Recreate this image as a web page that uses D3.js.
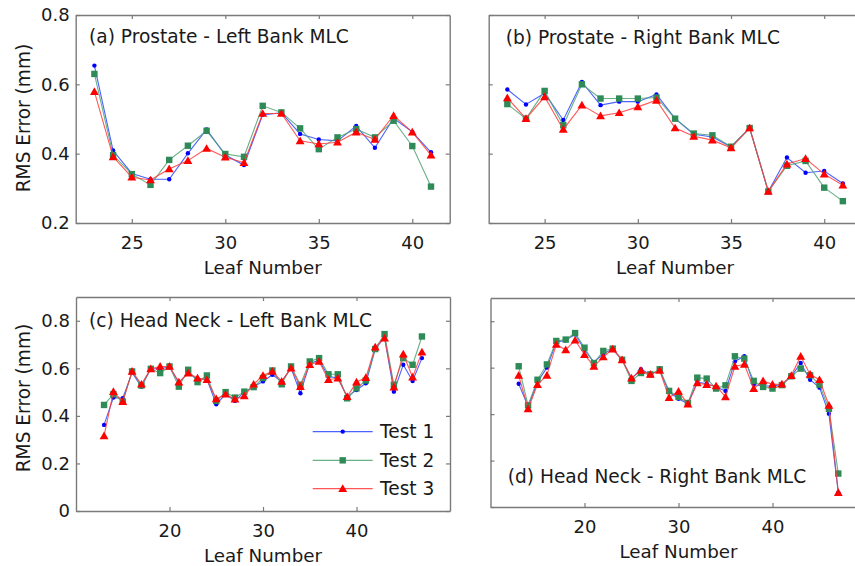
<!DOCTYPE html>
<html>
<head>
<meta charset="utf-8">
<script src="https://cdn.jsdelivr.net/npm/d3@7"></script>
<style>
  html, body { margin: 0; padding: 0; background: #fff; }
  svg { display: block; }
  text { font-family: "DejaVu Sans", sans-serif; fill: #1a1a1a; }
</style>
</head>
<body>
<svg id="chart" width="855" height="566"></svg>
<script>
// leaf numbers
const prostateLeaves = [23, 24, 25, 26, 27, 28, 29, 30, 31, 32, 33, 34, 35, 36, 37, 38, 39, 40, 41];
const headNeckLeaves = [13, 14, 15, 16, 17, 18, 19, 20, 21, 22, 23, 24, 25, 26, 27, 28, 29, 30,
  31, 32, 33, 34, 35, 36, 37, 38, 39, 40, 41, 42, 43, 44, 45, 46, 47];

// (a) Prostate - Left Bank
const aTest1 = [0.654, 0.409, 0.343, 0.326, 0.326, 0.401, 0.470, 0.396, 0.367, 0.512,
  0.518, 0.457, 0.441, 0.437, 0.480, 0.417, 0.502, 0.463, 0.404];
const aTest2 = [0.630, 0.396, 0.341, 0.310, 0.382, 0.423, 0.466, 0.399, 0.391, 0.538,
  0.519, 0.473, 0.413, 0.447, 0.471, 0.447, 0.495, 0.422, 0.305];
const aTest3 = [0.579, 0.391, 0.332, 0.324, 0.356, 0.380, 0.415, 0.390, 0.374, 0.516,
  0.516, 0.437, 0.428, 0.433, 0.462, 0.441, 0.510, 0.462, 0.396];

// (b) Prostate - Right Bank
const bTest1 = [0.585, 0.542, 0.574, 0.497, 0.607, 0.540, 0.550, 0.550, 0.571, 0.501,
  0.456, 0.448, 0.420, 0.474, 0.291, 0.389, 0.345, 0.350, 0.314];
const bTest2 = [0.543, 0.501, 0.581, 0.482, 0.600, 0.559, 0.559, 0.559, 0.562, 0.501,
  0.458, 0.453, 0.420, 0.474, 0.291, 0.365, 0.379, 0.302, 0.263];
const bTest3 = [0.561, 0.501, 0.564, 0.470, 0.540, 0.509, 0.518, 0.535, 0.554, 0.474,
  0.450, 0.439, 0.417, 0.474, 0.291, 0.370, 0.386, 0.341, 0.309];

// (c) Head Neck - Left Bank
const cTest1 = [0.362, 0.477, 0.474, 0.582, 0.523, 0.598, 0.598, 0.606, 0.540, 0.580,
  0.554, 0.554, 0.449, 0.491, 0.463, 0.500, 0.523, 0.545, 0.573, 0.545,
  0.601, 0.495, 0.622, 0.633, 0.566, 0.559, 0.481, 0.509, 0.537, 0.681,
  0.730, 0.502, 0.615, 0.547, 0.643];
const cTest2 = [0.446, 0.491, 0.460, 0.587, 0.528, 0.598, 0.580, 0.608, 0.523, 0.594,
  0.542, 0.570, 0.463, 0.500, 0.477, 0.502, 0.521, 0.559, 0.591, 0.533,
  0.608, 0.531, 0.629, 0.643, 0.575, 0.575, 0.474, 0.516, 0.549, 0.681,
  0.744, 0.531, 0.643, 0.615, 0.734];
const cTest3 = [0.316, 0.502, 0.460, 0.587, 0.533, 0.598, 0.608, 0.608, 0.542, 0.580,
  0.559, 0.552, 0.472, 0.491, 0.470, 0.484, 0.533, 0.570, 0.587, 0.545,
  0.601, 0.523, 0.615, 0.629, 0.552, 0.559, 0.481, 0.542, 0.561, 0.689,
  0.727, 0.521, 0.660, 0.563, 0.668];

// (d) Head Neck - Right Bank
const dTest1 = [0.531, 0.433, 0.538, 0.600, 0.710, 0.718, 0.744, 0.677, 0.624, 0.660,
  0.680, 0.634, 0.553, 0.593, 0.571, 0.588, 0.495, 0.466, 0.445, 0.538,
  0.531, 0.517, 0.500, 0.627, 0.649, 0.527, 0.521, 0.521, 0.527, 0.563,
  0.620, 0.548, 0.514, 0.402, 0.062];
const dTest2 = [0.606, 0.438, 0.548, 0.614, 0.715, 0.721, 0.749, 0.686, 0.620, 0.672,
  0.682, 0.634, 0.543, 0.577, 0.571, 0.593, 0.500, 0.474, 0.448, 0.557,
  0.553, 0.510, 0.524, 0.649, 0.639, 0.543, 0.517, 0.510, 0.525, 0.563,
  0.596, 0.567, 0.527, 0.423, 0.144];
const dTest3 = [0.567, 0.423, 0.527, 0.567, 0.700, 0.677, 0.718, 0.656, 0.606, 0.646,
  0.680, 0.634, 0.555, 0.588, 0.571, 0.588, 0.471, 0.498, 0.443, 0.534,
  0.527, 0.521, 0.474, 0.606, 0.614, 0.510, 0.543, 0.528, 0.529, 0.566,
  0.649, 0.571, 0.548, 0.438, 0.062];

const seriesNames = ["Test 1", "Test 2", "Test 3"];
const panelTitles = [
  "(a) Prostate - Left Bank MLC",
  "(b) Prostate - Right Bank MLC",
  "(c) Head Neck - Left Bank MLC",
  "(d) Head Neck - Right Bank MLC"
];
const xTicksProstate = [25, 30, 35, 40];
const xTicksHeadNeck = [20, 30, 40];
const yTicksProstate = [0.2, 0.4, 0.6, 0.8];
const yTicksHeadNeck = [0, 0.2, 0.4, 0.6, 0.8];

const colors = ["#0000ff", "#2e8b57", "#ff0000"];
const lineColors = ["#2a48ff", "#4fa273", "#ff3a3a"];
const fontSize = 18.6;

const svg = d3.select("#chart");
svg.append("rect").attr("width", 855).attr("height", 566).attr("fill", "#fff");

const panels = [
  { box: [75.7, 449.7, 15, 223], xDom: [22, 42], yDom: [0.2, 0.8], leaves: prostateLeaves,
    series: [aTest1, aTest2, aTest3], xTicks: xTicksProstate, yTicks: yTicksProstate,
    yLabels: true, title: panelTitles[0], titlePos: [89, 43], yLabelY: 118, legend: false },
  { box: [488.7, 861.5, 15, 223], xDom: [22, 42], yDom: [0.2, 0.8], leaves: prostateLeaves,
    series: [bTest1, bTest2, bTest3], xTicks: xTicksProstate, yTicks: yTicksProstate,
    yLabels: false, title: panelTitles[1], titlePos: [505.7, 44], legend: false },
  { box: [76, 450, 297, 511], xDom: [10, 50], yDom: [0, 0.9], leaves: headNeckLeaves,
    series: [cTest1, cTest2, cTest3], xTicks: xTicksHeadNeck, yTicks: yTicksHeadNeck,
    yLabels: true, title: panelTitles[2], titlePos: [89, 327], yLabelY: 398, legend: true },
  { box: [490.5, 866.5, 298, 507], xDom: [10, 50], yDom: [0, 0.9], leaves: headNeckLeaves,
    series: [dTest1, dTest2, dTest3], xTicks: xTicksHeadNeck, yTicks: yTicksHeadNeck,
    yLabels: false, title: panelTitles[3], titlePos: [507.7, 483], legend: false }
];

// legend rows sit at these RMS values inside panel (c)
const legendRows = [0.334, 0.213, 0.094];

function drawMarker(g, i, cx, cy) {
  if (i === 0) {
    g.append("circle").attr("cx", cx).attr("cy", cy).attr("r", 2.2).attr("fill", colors[0]);
  } else if (i === 1) {
    g.append("rect").attr("x", cx - 3.2).attr("y", cy - 3.2)
      .attr("width", 6.4).attr("height", 6.4).attr("fill", colors[1]);
  } else {
    g.append("path").attr("d", d3.symbol(d3.symbolTriangle, 34)())
      .attr("transform", `translate(${cx},${cy + 0.8})`).attr("fill", colors[2]);
  }
}

function styleAxis(g) {
  g.select(".domain").attr("stroke", "#7a7a7a").attr("stroke-width", 1.4);
  g.selectAll(".tick line").attr("stroke", "#7a7a7a").attr("stroke-width", 1.2);
  g.selectAll("text").style("font-size", "18px").attr("fill", "#1a1a1a")
    .style("font-family", "DejaVu Sans, sans-serif");
}

panels.forEach((p) => {
  const [left, right, top, bottom] = p.box;
  const x = d3.scaleLinear().domain(p.xDom).range([left, right]);
  const y = d3.scaleLinear().domain(p.yDom).range([bottom, top]);
  const g = svg.append("g");

  // axes, ticks pointing inward on all four sides
  g.append("g").attr("transform", `translate(0,${bottom})`)
    .call(d3.axisBottom(x).tickValues(p.xTicks).tickSizeInner(-4).tickSizeOuter(0).tickPadding(13))
    .call(styleAxis);
  g.append("g").attr("transform", `translate(0,${top})`)
    .call(d3.axisTop(x).tickValues(p.xTicks).tickSizeInner(-4).tickSizeOuter(0).tickFormat(""))
    .call(styleAxis);
  g.append("g").attr("transform", `translate(${left},0)`)
    .call(d3.axisLeft(y).tickValues(p.yTicks).tickSizeInner(-4).tickSizeOuter(0).tickPadding(6)
      .tickFormat(p.yLabels ? d3.format("") : ""))
    .call(styleAxis);
  g.append("g").attr("transform", `translate(${right},0)`)
    .call(d3.axisRight(y).tickValues(p.yTicks).tickSizeInner(-4).tickSizeOuter(0).tickFormat(""))
    .call(styleAxis);

  // series
  p.series.forEach((vals, i) => {
    const pts = p.leaves.map((leaf, j) => ({ leaf, v: vals[j] }));
    const line = d3.line().x((d) => x(d.leaf)).y((d) => y(d.v));
    g.append("path").datum(pts).attr("d", line).attr("fill", "none")
      .attr("stroke", lineColors[i]).attr("stroke-width", 1.1).attr("stroke-opacity", 0.85);
    const mg = g.append("g");
    pts.forEach((d) => drawMarker(mg, i, x(d.leaf), y(d.v)));
  });

  // titles and labels
  g.append("text").attr("x", p.titlePos[0]).attr("y", p.titlePos[1])
    .style("font-size", fontSize + "px").text(p.title);
  g.append("text").attr("x", (left + right) / 2).attr("y", bottom + 51)
    .attr("text-anchor", "middle").style("font-size", "18.3px").text("Leaf Number");
  if (p.yLabels) {
    g.append("text").attr("transform", `translate(30,${p.yLabelY}) rotate(-90)`)
      .attr("text-anchor", "middle").style("font-size", "18.6px").text("RMS Error (mm)");
  }

  if (p.legend) {
    const lg = g.append("g");
    legendRows.forEach((v, i) => {
      const ly = y(v);
      lg.append("line").attr("x1", 312.7).attr("x2", 372.7).attr("y1", ly).attr("y2", ly)
        .attr("stroke", lineColors[i]).attr("stroke-width", 1.1).attr("stroke-opacity", 0.85);
      drawMarker(lg, i, 342.7, ly);
      lg.append("text").attr("x", 380).attr("y", ly).attr("dy", "0.36em")
        .style("font-size", fontSize + "px").text(seriesNames[i]);
    });
  }
});
</script>
</body>
</html>
